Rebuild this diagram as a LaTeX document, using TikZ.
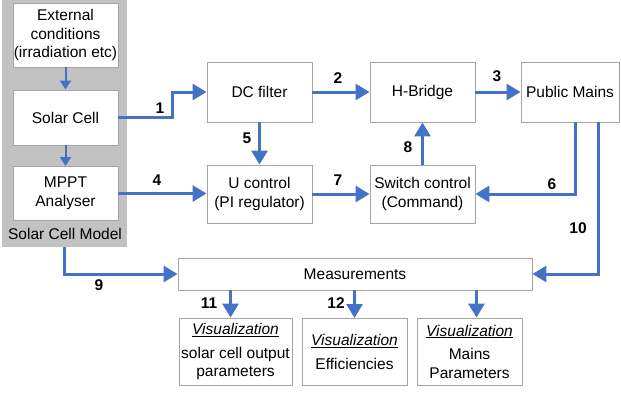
\documentclass[tikz,border=0pt]{standalone}
\usepackage{fontspec}
\setmainfont{Liberation Sans}
\usepackage{xcolor}
\usetikzlibrary{arrows.meta,positioning}

\definecolor{flowblue}{RGB}{68,114,196}
\definecolor{panelgray}{RGB}{194,194,194}
\definecolor{boxline}{RGB}{165,165,165}

\begin{document}
\begin{tikzpicture}[x=1pt, y=-1pt,
    every node/.append style={font=\fontsize{15.5}{18.5}\selectfont},
    box/.style={draw=boxline, fill=white, line width=0.9pt, align=center, inner sep=0pt},
    flow/.style={draw=flowblue, line width=3pt, -{Triangle[length=14pt,width=16pt]}},
    flowsmall/.style={draw=flowblue, line width=2pt, -{Triangle[length=9pt,width=11pt]}},
    num/.style={font=\fontsize{15.5}{18.5}\selectfont\bfseries}]
    \useasboundingbox (0,0) rectangle (621,394);

    % Solar cell model
    \node[fill=panelgray, minimum width=125pt, minimum height=247pt, inner sep=0pt] (model) at (64.5,123.5) {};
    \node[box, minimum width=105pt, minimum height=64pt] (ext) at (65.5,35) {External\\conditions\\(irradiation etc)};
    \node[box, minimum width=105pt, minimum height=55pt] (solar) at (65.5,117.5) {Solar Cell};
    \node[box, minimum width=105pt, minimum height=54pt] (mppt) at (65.5,193.5) {MPPT\\Analyser};
    \node (modellabel) at (65,234) {Solar Cell Model};

    % Power path
    \node[box, minimum width=105pt, minimum height=60pt] (dcfilter) at (259.5,92) {DC filter};
    \node[box, minimum width=105pt, minimum height=60pt] (hbridge) at (422.5,92) {H-Bridge};
    \node[box, minimum width=98pt, minimum height=60pt] (mains) at (570,92) {Public Mains};

    % Control
    \node[box, minimum width=105pt, minimum height=58pt] (ucontrol) at (259.5,194) {U control\\(PI regulator)};
    \node[box, minimum width=105pt, minimum height=58pt] (swcontrol) at (422.5,194) {Switch control\\(Command)};

    % Measurements and visualization
    \node[box, minimum width=354pt, minimum height=32pt] (meas) at (355,274) {Measurements};
    \node[box, minimum width=113pt, minimum height=67pt] (vissolar) at (235.5,351.5) {\underline{\textit{Visualization}}\\[5pt]solar cell output\\parameters};
    \node[box, minimum width=105pt, minimum height=67pt, anchor=north] (viseff) at (354.5,318) {\underline{\textit{Visualization}}\\[5pt]Efficiencies};
    \node[box, minimum width=105pt, minimum height=67pt] (vismains) at (469.5,351.5) {\underline{\textit{Visualization}}\\[5pt]Mains\\Parameters};

    % Connections
    \draw[flowsmall] (ext) -- (solar);
    \draw[flowsmall] (solar) -- (mppt);
    \draw[flow] (solar.east) -- ++(54,0) |- (dcfilter.west);
    \draw[flow] (dcfilter) -- (hbridge);
    \draw[flow] (hbridge) -- (mains);
    \draw[flow] (mppt.east) -- (mppt.east -| ucontrol.west);
    \draw[flow] (dcfilter) -- (ucontrol);
    \draw[flow] ([xshift=5pt]mains.south) |- (swcontrol.east);
    \draw[flow] (ucontrol) -- (swcontrol);
    \draw[flow] (swcontrol) -- (hbridge);
    \draw[flow] (model.south) |- (meas.west);
    \draw[flow] ([xshift=28pt]mains.south) |- (meas.east);
    \draw[flow] ([xshift=-5pt]vissolar.north |- meas.south) -- ([xshift=-5pt]vissolar.north);
    \draw[flow] (viseff.north |- meas.south) -- (viseff.north);
    \draw[flow] ([xshift=7pt]vismains.north |- meas.south) -- ([xshift=7pt]vismains.north);

    % Labels
    \node[num] (l1) at (160,108) {1};
    \node[num] (l2) at (338,78) {2};
    \node[num] (l3) at (497,76) {3};
    \node[num] (l4) at (157,180) {4};
    \node[num] (l5) at (247,138) {5};
    \node[num] (l6) at (552,184) {6};
    \node[num] (l7) at (338,180) {7};
    \node[num] (l8) at (408,147) {8};
    \node[num] (l9) at (99,285) {9};
    \node[num] (l10) at (578,228) {10};
    \node[num] (l11) at (209,303) {11};
    \node[num] (l12) at (336,303) {12};
\end{tikzpicture}
\end{document}
